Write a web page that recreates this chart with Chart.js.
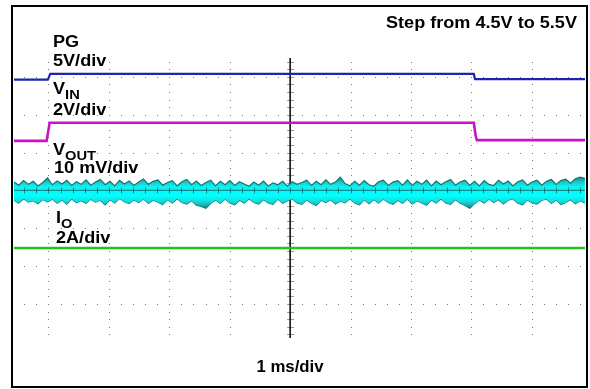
<!DOCTYPE html>
<html>
<head>
<meta charset="utf-8">
<script src="https://cdn.jsdelivr.net/npm/chart.js@4.4.1/dist/chart.umd.min.js"></script>
<style>
  html, body { margin: 0; padding: 0; background: #fff; }
  #wrap { position: relative; width: 590px; height: 389px; overflow: hidden; }
  #scope { position: absolute; left: 0; top: 0; }
  #frame {
    position: absolute; left: 11px; top: 5px; width: 577px; height: 383px;
    box-sizing: border-box; border: 2.5px solid #000; pointer-events: none;
  }
  .lbl {
    position: absolute; font: bold 16px "Liberation Sans", Arial, sans-serif;
    line-height: 16px; white-space: nowrap; color: #000;
    transform: scaleX(1.13); transform-origin: left top;
  }
  .sub { font-size: 13px; position: relative; top: 5px; }
</style>
</head>
<body>
<div id="wrap">
  <canvas id="scope" width="590" height="389"></canvas>
  <div id="frame"></div>
  <div class="lbl" style="left:53px; top:33.5px">PG</div>
  <div class="lbl" style="left:53px; top:52.5px">5V/div</div>
  <div class="lbl" style="left:53px; top:80.5px">V<span class="sub">IN</span></div>
  <div class="lbl" style="left:53px; top:101.5px">2V/div</div>
  <div class="lbl" style="left:53px; top:141.5px">V<span class="sub">OUT</span></div>
  <div class="lbl" style="left:54px; top:159.5px">10 mV/div</div>
  <div class="lbl" style="left:56px; top:209.5px">I<span class="sub">O</span></div>
  <div class="lbl" style="left:56px; top:229.5px">2A/div</div>
  <div class="lbl" style="right:13px; top:14.5px; transform-origin:right top">Step from 4.5V to 5.5V</div>
  <div class="lbl" style="left:190px; width:200px; text-align:center; top:358.5px; transform:scaleX(1.05); transform-origin:center top">1 ms/div</div>
</div>
<script>
// screen range, in divisions (1 ms/div horizontally)
const xRange = [-4.57, 4.88];
const yRange = [-3.9, 3.5];
const xDivs = [-4, -3, -2, -1, 1, 2, 3, 4];
const yDivs = [-3, -2, -1, 1, 2, 3];

// PG trace (blue)
const pgTime = [-4.57, -4.01, -3.97, 3.04, 3.06, 4.88];
const pgLevel = [2.93, 2.93, 3.08, 3.08, 2.94, 2.94];

// VIN trace (magenta)
const vinTime = [-4.57, -4.03, -3.98, 3.04, 3.07, 3.09, 4.88];
const vinLevel = [1.31, 1.31, 1.79, 1.79, 1.45, 1.33, 1.33];

// IO trace (green)
const ioTime = [-4.57, 4.88];
const ioLevel = [-1.52, -1.52];

// VOUT ripple band (cyan), sampled envelope
const voutStart = -4.57;
const voutStep = 0.0794;
const voutUpper = [
  0.22, 0.14, 0.26, 0.16, 0.24, 0.12, 0.21, 0.33, 0.15, 0.25,
  0.17, 0.27, 0.13, 0.23, 0.16, 0.28, 0.14, 0.22, 0.29, 0.15,
  0.24, 0.12, 0.27, 0.17, 0.25, 0.13, 0.22, 0.30, 0.16, 0.24,
  0.28, 0.14, 0.21, 0.26, 0.12, 0.23, 0.29, 0.15, 0.25, 0.13,
  0.21, 0.27, 0.12, 0.24, 0.15, 0.26, 0.13, 0.23, 0.17, 0.11,
  0.22, 0.14, 0.25, 0.12, 0.20, 0.15, 0.24, 0.11, 0.23, 0.16,
  0.21, 0.27, 0.13, 0.24, 0.15, 0.28, 0.16, 0.22, 0.35, 0.18,
  0.12, 0.24, 0.14, 0.26, 0.15, 0.11, 0.23, 0.27, 0.13, 0.22,
  0.26, 0.14, 0.28, 0.13, 0.24, 0.16, 0.27, 0.12, 0.25, 0.15,
  0.23, 0.29, 0.14, 0.22, 0.27, 0.13, 0.24, 0.12, 0.26, 0.16,
  0.13, 0.27, 0.17, 0.25, 0.12, 0.23, 0.28, 0.14, 0.22, 0.27,
  0.14, 0.24, 0.29, 0.16, 0.26, 0.30, 0.19, 0.31, 0.35, 0.32
];
const voutLower = [
  -0.26, -0.33, -0.22, -0.31, -0.27, -0.35, -0.24, -0.30, -0.23, -0.34,
  -0.25, -0.36, -0.22, -0.32, -0.27, -0.34, -0.23, -0.31, -0.26, -0.38,
  -0.24, -0.33, -0.21, -0.30, -0.35, -0.25, -0.32, -0.23, -0.34, -0.26,
  -0.31, -0.37, -0.24, -0.33, -0.22, -0.32, -0.36, -0.27, -0.39, -0.42,
  -0.47, -0.34, -0.25, -0.34, -0.23, -0.33, -0.38, -0.26, -0.33, -0.22,
  -0.32, -0.36, -0.24, -0.33, -0.37, -0.23, -0.34, -0.27, -0.22, -0.33,
  -0.37, -0.25, -0.34, -0.40, -0.26, -0.32, -0.24, -0.36, -0.28, -0.33,
  -0.22, -0.33, -0.38, -0.25, -0.35, -0.24, -0.33, -0.23, -0.32, -0.37,
  -0.26, -0.34, -0.23, -0.36, -0.27, -0.33, -0.39, -0.25, -0.33, -0.22,
  -0.33, -0.37, -0.24, -0.34, -0.40, -0.47, -0.35, -0.25, -0.33, -0.23,
  -0.32, -0.24, -0.36, -0.26, -0.22, -0.34, -0.38, -0.25, -0.33, -0.36,
  -0.26, -0.23, -0.34, -0.25, -0.37, -0.32, -0.24, -0.35, -0.27, -0.33
];

const toPoints = (xs, ys) => ys.map((y, i) => ({ x: xs[i], y: y }));
const voutTime = voutUpper.map((_, i) => voutStart + i * voutStep);

// dotted graticule + centre axes with tick marks
const graticule = {
  id: 'graticule',
  beforeDatasetsDraw(chart) {
    const { ctx, chartArea: a, scales: { x, y } } = chart;
    ctx.save();
    ctx.fillStyle = '#7a7a7a';
    xDivs.forEach(d => {
      const px = Math.round(x.getPixelForValue(d));
      for (let v = -19; v <= 17; v++) {
        const py = Math.round(y.getPixelForValue(v / 5));
        ctx.fillRect(px, py, 1, 1);
      }
    });
    yDivs.forEach(d => {
      const py = Math.round(y.getPixelForValue(d));
      for (let v = -22; v <= 24; v++) {
        const px = Math.round(x.getPixelForValue(v / 5));
        if (px > a.left && px < a.right) ctx.fillRect(px, py, 1, 1);
      }
    });
    // vertical centre axis
    const cx = x.getPixelForValue(0);
    ctx.strokeStyle = '#999';
    ctx.lineWidth = 1;
    ctx.beginPath();
    for (let v = -19; v <= 17; v++) {
      const py = Math.round(y.getPixelForValue(v / 5)) + 0.5;
      ctx.moveTo(cx - 3, py);
      ctx.lineTo(cx + 4, py);
    }
    ctx.stroke();
    ctx.strokeStyle = '#000';
    ctx.lineWidth = 1.5;
    ctx.beginPath();
    ctx.moveTo(cx, a.top);
    ctx.lineTo(cx, a.bottom);
    ctx.stroke();
    ctx.restore();
  },
  afterDatasetsDraw(chart) {
    const { ctx, chartArea: a, scales: { x, y } } = chart;
    const cy = y.getPixelForValue(0);
    ctx.save();
    ctx.strokeStyle = 'rgba(10, 60, 60, 0.55)';
    ctx.lineWidth = 1.2;
    ctx.beginPath();
    ctx.moveTo(a.left, cy);
    ctx.lineTo(a.right, cy);
    ctx.stroke();
    ctx.lineWidth = 1;
    ctx.beginPath();
    for (let v = -22; v <= 24; v++) {
      const px = Math.round(x.getPixelForValue(v / 5)) + 0.5;
      if (px <= a.left || px >= a.right) continue;
      ctx.moveTo(px, cy - 3);
      ctx.lineTo(px, cy + 3);
    }
    ctx.stroke();
    ctx.restore();
  }
};

const bandFill = (context) => {
  const chart = context.chart;
  const { ctx, chartArea } = chart;
  if (!chartArea) return '#1de0e0';
  const y = chart.scales.y;
  const g = ctx.createLinearGradient(0, y.getPixelForValue(0.34), 0, y.getPixelForValue(-0.46));
  g.addColorStop(0, '#138a8a');
  g.addColorStop(0.15, '#1cc8c8');
  g.addColorStop(0.3, '#10f0f0');
  g.addColorStop(0.6, '#00ffff');
  g.addColorStop(0.78, '#12dede');
  g.addColorStop(0.9, '#19b4b4');
  g.addColorStop(1, '#128080');
  return g;
};

new Chart(document.getElementById('scope').getContext('2d'), {
  type: 'line',
  data: {
    datasets: [
      {
        label: 'PG',
        data: toPoints(pgTime, pgLevel),
        borderColor: '#1c24b0',
        borderWidth: 2.2,
        fill: false,
      },
      {
        label: 'VIN',
        data: toPoints(vinTime, vinLevel),
        borderColor: '#cc12c8',
        borderWidth: 2.6,
        fill: false,
      },
      {
        label: 'IO',
        data: toPoints(ioTime, ioLevel),
        borderColor: '#22c41e',
        borderWidth: 2.6,
        fill: false,
      },
      {
        label: 'VOUT upper',
        data: toPoints(voutTime, voutUpper),
        borderColor: '#117474',
        borderWidth: 1.2,
        backgroundColor: bandFill,
        fill: '+1',
      },
      {
        label: 'VOUT lower',
        data: toPoints(voutTime, voutLower),
        borderColor: '#117474',
        borderWidth: 1.2,
        fill: false,
      },
    ],
  },
  options: {
    responsive: false,
    animation: false,
    devicePixelRatio: 1,
    layout: { padding: { left: 14, right: 5, top: 58, bottom: 51 } },
    elements: {
      point: { radius: 0 },
      line: { tension: 0 },
    },
    scales: {
      x: { type: 'linear', min: xRange[0], max: xRange[1], display: false },
      y: { type: 'linear', min: yRange[0], max: yRange[1], display: false },
    },
    plugins: {
      legend: { display: false },
      tooltip: { enabled: false },
    },
  },
  plugins: [graticule],
});
</script>
</body>
</html>
